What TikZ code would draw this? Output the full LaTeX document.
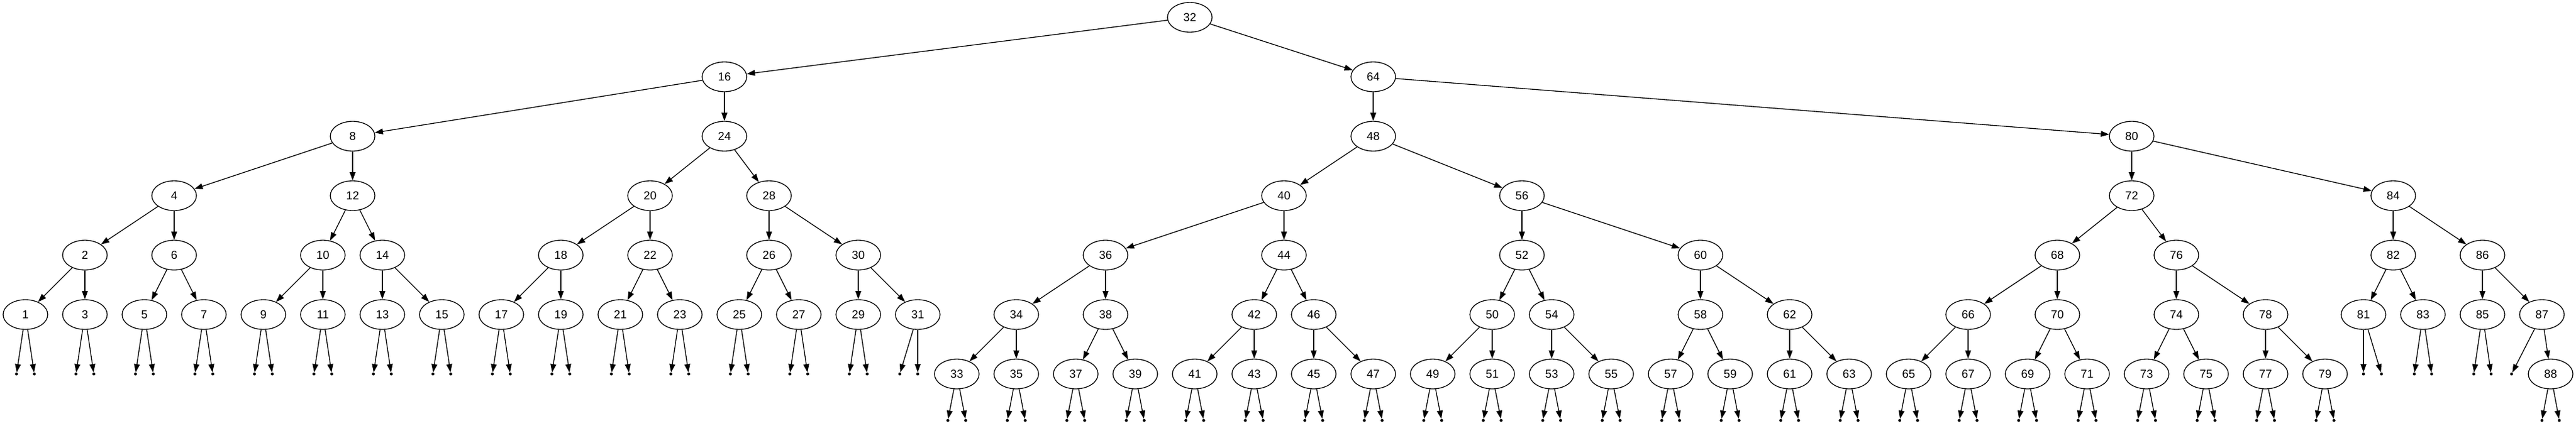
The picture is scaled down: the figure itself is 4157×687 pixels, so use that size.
\documentclass[tikz,border=0pt]{standalone}
\usepackage{fontspec}
\setmainfont{Liberation Sans}
\usetikzlibrary{arrows.meta,shapes.geometric}

\begin{document}
\begin{tikzpicture}[x=0.75pt,y=-0.75pt]
            \useasboundingbox (0,0) rectangle (4157,687);
            \begin{scope}[every node/.style={ellipse,draw,line width=1pt,minimum width=54pt,minimum height=36pt,inner sep=0pt,font=\fontsize{14pt}{16pt}\selectfont}]
                \node (n32) at (1920,28) {32};
                \node (n16) at (1169,124) {16};
                \node (n64) at (2216,124) {64};
                \node (n8) at (569,220) {8};
                \node (n24) at (1169,220) {24};
                \node (n48) at (2216,220) {48};
                \node (n80) at (3440,220) {80};
                \node (n4) at (281,316) {4};
                \node (n12) at (569,316) {12};
                \node (n20) at (1049,316) {20};
                \node (n28) at (1241,316) {28};
                \node (n40) at (2072,316) {40};
                \node (n56) at (2456,316) {56};
                \node (n72) at (3440,316) {72};
                \node (n84) at (3862,316) {84};
                \node (n2) at (137,412) {2};
                \node (n6) at (281,412) {6};
                \node (n10) at (521,412) {10};
                \node (n14) at (617,412) {14};
                \node (n18) at (905,412) {18};
                \node (n22) at (1049,412) {22};
                \node (n26) at (1241,412) {26};
                \node (n30) at (1385,412) {30};
                \node (n36) at (1784,412) {36};
                \node (n44) at (2072,412) {44};
                \node (n52) at (2456,412) {52};
                \node (n60) at (2744,412) {60};
                \node (n68) at (3320,412) {68};
                \node (n76) at (3512,412) {76};
                \node (n82) at (3862,412) {82};
                \node (n86) at (4006,412) {86};
                \node (n34) at (1640,508) {34};
                \node (n38) at (1784,508) {38};
                \node (n42) at (2024,508) {42};
                \node (n46) at (2120,508) {46};
                \node (n50) at (2408,508) {50};
                \node (n54) at (2504,508) {54};
                \node (n58) at (2744,508) {58};
                \node (n62) at (2888,508) {62};
                \node (n66) at (3176,508) {66};
                \node (n70) at (3320,508) {70};
                \node (n74) at (3512,508) {74};
                \node (n78) at (3656,508) {78};
                \node (n81) at (3814,508) {81};
                \node (n83) at (3910,508) {83};
                \node (n85) at (4006,508) {85};
                \node (n87) at (4102,508) {87};
                \node (n88) at (4116,604) {88};
                \foreach \k in {1,3,...,31}
                    \node (n\k) at ({41+48*(\k-1)},508) {\k};
                \foreach \k in {33,35,...,79}
                    \node (n\k) at ({1544+48*(\k-33)},604) {\k};
            \end{scope}

            % null children
            \begin{scope}[every node/.style={circle,fill=black,minimum size=3.6pt,inner sep=0pt}]
                \foreach \k in {1,3,...,29} {
                    \node (l\k) at ({41+48*(\k-1)-14.4},604) {};
                    \node (r\k) at ({41+48*(\k-1)+14.4},604) {};
                }
                \foreach \k in {33,35,...,79} {
                    \node (l\k) at ({1544+48*(\k-33)-14.4},679) {};
                    \node (r\k) at ({1544+48*(\k-33)+14.4},679) {};
                }
                \node (l31) at (1452,604) {};
                \node (r31) at (1481,604) {};
                \node (l81) at (3814,604) {};
                \node (r81) at (3843,604) {};
                \node (l83) at (3896,604) {};
                \node (r83) at (3924,604) {};
                \node (l85) at (3992,604) {};
                \node (r85) at (4020,604) {};
                \node (l87) at (4053,604) {};
                \node (l88) at (4102,679) {};
                \node (r88) at (4130,679) {};
            \end{scope}

            \begin{scope}[>={Triangle[length=10pt,width=7pt]},
                          every edge/.style={draw=black,line width=1pt}]
                \foreach \a/\b in {32/16,32/64,16/8,16/24,8/4,8/12,4/2,4/6,2/1,2/3,6/5,6/7,
                    12/10,12/14,10/9,10/11,14/13,14/15,24/20,24/28,20/18,20/22,18/17,18/19,
                    22/21,22/23,28/26,28/30,26/25,26/27,30/29,30/31,64/48,64/80,48/40,48/56,
                    40/36,40/44,36/34,36/38,34/33,34/35,38/37,38/39,44/42,44/46,42/41,42/43,
                    46/45,46/47,56/52,56/60,52/50,52/54,50/49,50/51,54/53,54/55,60/58,60/62,
                    58/57,58/59,62/61,62/63,80/72,80/84,72/68,72/76,68/66,68/70,66/65,66/67,
                    70/69,70/71,76/74,76/78,74/73,74/75,78/77,78/79,84/82,84/86,82/81,82/83,
                    86/85,86/87,87/88}
                    \path [->] (n\a) edge (n\b);
                \foreach \k in {1,3,...,85,88} {
                    \path [->] (n\k) edge (l\k);
                    \path [->] (n\k) edge (r\k);
                }
                \path [->] (n87) edge (l87);
            \end{scope}
        \end{tikzpicture}
\end{document}
